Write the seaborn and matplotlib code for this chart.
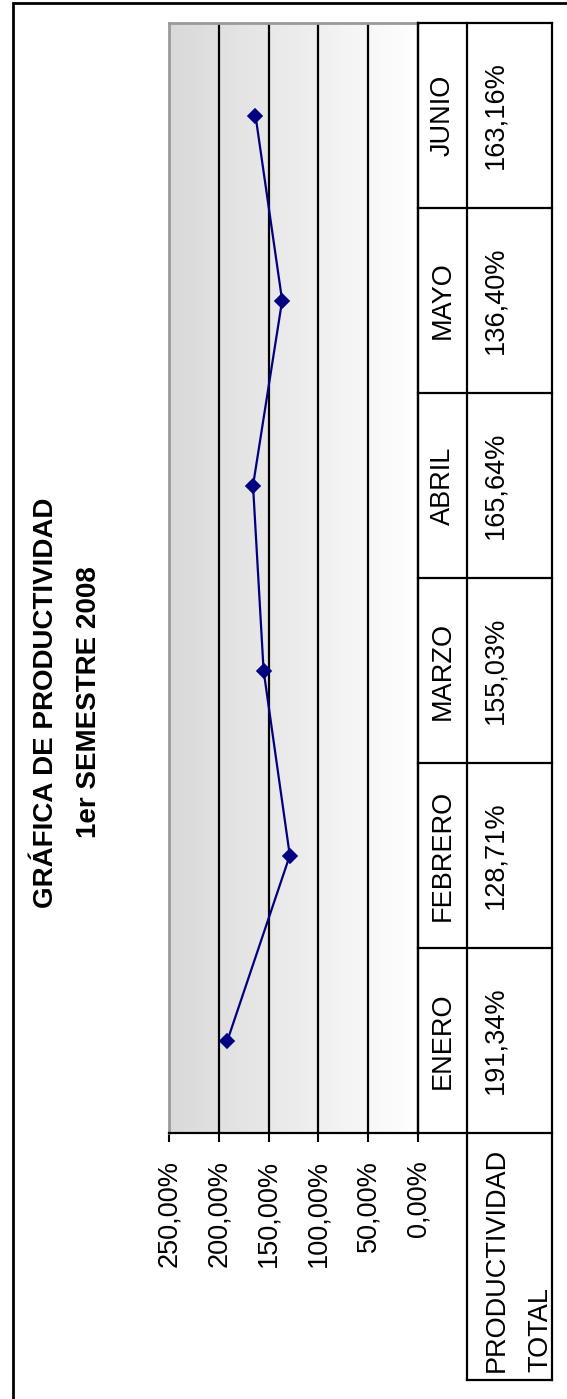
import numpy as np
import matplotlib
matplotlib.use("Agg")
import matplotlib.pyplot as plt
from matplotlib.ticker import FuncFormatter, MultipleLocator
from matplotlib.patches import Rectangle
import seaborn as sns

# Datos del primer semestre
meses = ["ENERO", "FEBRERO", "MARZO", "ABRIL", "MAYO", "JUNIO"]
productividad = [191.34, 128.71, 155.03, 165.64, 136.40, 163.16]
serie = "PRODUCTIVIDAD\nTOTAL"
titulo = "GRÁFICA DE PRODUCTIVIDAD"
subtitulo = "1er SEMESTRE 2008"
escala_max = 250
paso = 50

sns.set_theme(style="white")
plt.rcParams["font.family"] = ["Liberation Sans", "DejaVu Sans"]

FS = 19.5
W, H, DPI = 567, 1399, 100
fig = plt.figure(figsize=(W / DPI, H / DPI), dpi=DPI)
fig.patch.set_facecolor("white")


def caja(x0, y0, x1, y1):
    """Pixel box (origin top-left) -> figure fraction rect."""
    return [x0 / W, 1 - y1 / H, (x1 - x0) / W, (y1 - y0) / H]


def pct(v):
    return f"{v:.2f}%".replace(".", ",")


# plot area / table geometry in pixels
PX0, PX1, PY0, PY1 = 169, 418, 23, 1133
COL, TX1, TY1 = 467, 552, 1380

ax = fig.add_axes(caja(PX0, PY0, PX1, PY1))

# gray-to-white gradient fill of the plot area
t = np.linspace(0, 1, 256)[:, None]
oscuro = np.array([0.85, 0.85, 0.85])
claro = np.array([1.0, 1.0, 1.0])
fondo = oscuro * (1 - t) + claro * t
ax.imshow(fondo[None, :, :], extent=[escala_max, 0, -0.5, len(meses) - 0.5],
          aspect="auto", zorder=0, interpolation="bilinear")

sns.pointplot(x=productividad, y=meses, orient="h", color="#000080",
              markers="D", linestyles="-", errorbar=None, ax=ax,
              markersize=7.5, linewidth=1.6, zorder=5)

ax.set_xlim(escala_max, 0)
ax.set_ylim(-0.5, len(meses) - 0.5)
ax.set_xlabel("")
ax.set_ylabel("")
ax.grid(False)

ticks = np.arange(0, escala_max + paso, paso)
ax.vlines(ticks[1:-1], -0.5, len(meses) - 0.5, color="black", lw=1.6, zorder=1)

ax.xaxis.set_major_locator(MultipleLocator(paso))
ax.xaxis.set_major_formatter(FuncFormatter(lambda v, p: pct(v)))
ax.tick_params(axis="x", bottom=True, direction="out", length=6.5, width=1.5,
               color="black", pad=13, labelsize=FS, labelrotation=90,
               labelcolor="black")
ax.tick_params(axis="y", left=False, labelleft=False)

for s in ("left", "top"):
    ax.spines[s].set_color("#9a9a9a")
    ax.spines[s].set_linewidth(2)
for s in ("right", "bottom"):
    ax.spines[s].set_color("black")
    ax.spines[s].set_linewidth(1.6)

# data table under the category axis
tab = fig.add_axes(caja(PX1, PY0, TX1, TY1))
u = len(meses) / (PY1 - PY0)
y_bot = -0.5 - (TY1 - PY1) * u
tab.set_xlim(PX1, TX1)
tab.set_ylim(y_bot, len(meses) - 0.5)
tab.axis("off")

kw = dict(color="black", lw=1.6, clip_on=False, solid_capstyle="projecting")
for i in range(len(meses) + 1):
    tab.plot([PX1, TX1], [i - 0.5, i - 0.5], **kw)
tab.plot([PX1, PX1], [-0.5, len(meses) - 0.5], **kw)
tab.plot([COL, COL], [y_bot, len(meses) - 0.5], **kw)
tab.plot([TX1, TX1], [y_bot, len(meses) - 0.5], **kw)
tab.plot([COL, TX1], [y_bot, y_bot], **kw)

for i, (m, v) in enumerate(zip(meses, productividad)):
    tab.text(429.5, i, m, rotation=90, ha="left", va="center", fontsize=FS,
             color="black")
    tab.text(482, i, pct(v), rotation=90, ha="left", va="center", fontsize=FS,
             color="black")

tab.text(484, -0.5 - (1372 - PY1) * u, serie, rotation=90, ha="left",
         va="bottom", multialignment="left", linespacing=1.85, fontsize=FS,
         color="black")

# titles
fig.text(33 / W, 1 - 702.5 / H, titulo, rotation=90, ha="left", va="center",
         fontsize=20, fontweight="bold", color="black")
fig.text(76.5 / W, 1 - 702.5 / H, subtitulo, rotation=90, ha="left",
         va="center", fontsize=20, fontweight="bold", color="black")

# chart frame
fig.add_artist(Rectangle((13 / W, -0.05), 1.2, 1.05 - 3 / H,
                         transform=fig.transFigure, fill=False,
                         edgecolor="black", lw=2))

fig.savefig("out.png", dpi=DPI, facecolor="white")
